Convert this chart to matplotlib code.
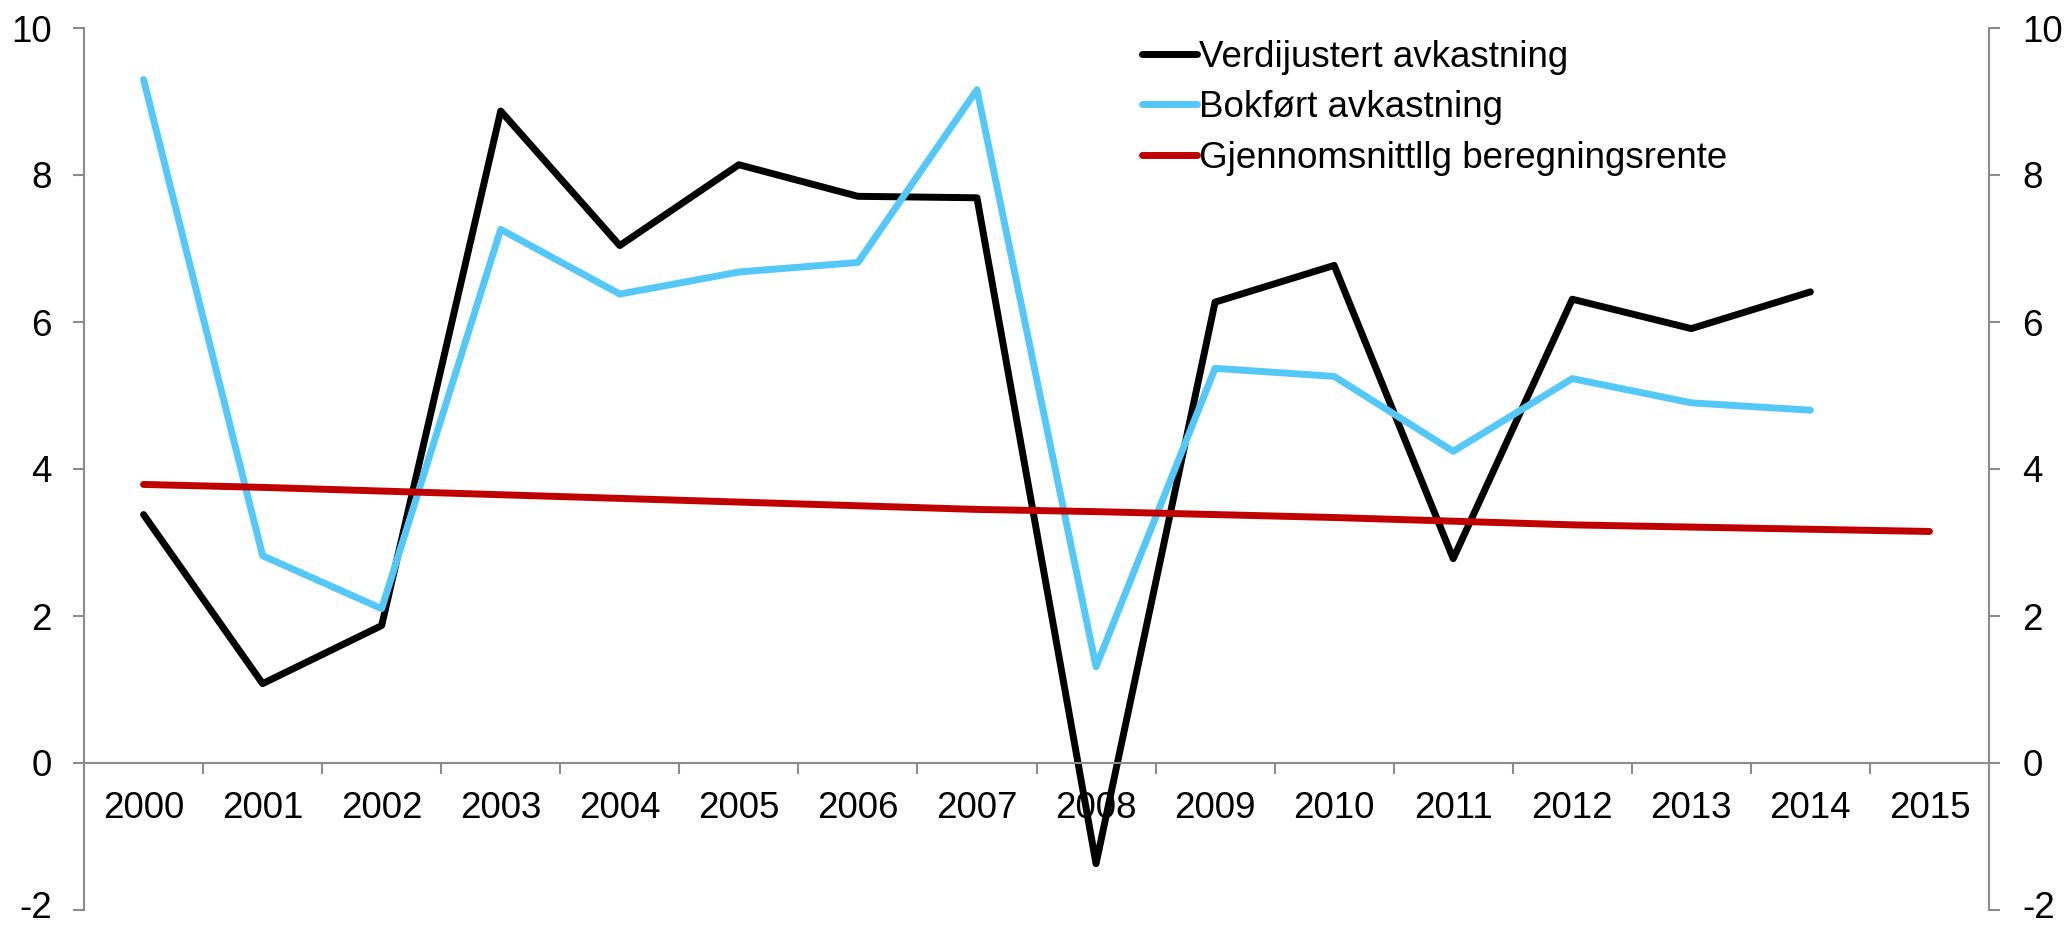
import numpy as np
import matplotlib.pyplot as plt
from matplotlib.transforms import ScaledTranslation

plt.rcParams['font.family'] = ['Liberation Sans', 'DejaVu Sans']
plt.rcParams['axes.unicode_minus'] = False

years = ['2000', '2001', '2002', '2003', '2004', '2005', '2006', '2007',
         '2008', '2009', '2010', '2011', '2012', '2013', '2014', '2015']

# Verdijustert avkastning (to 2014)
verdijustert = [3.38, 1.08, 1.87, 8.87, 7.04, 8.14, 7.71, 7.69,
                -1.37, 6.27, 6.77, 2.78, 6.31, 5.91, 6.41]
# Bokført avkastning (to 2014)
bokfort = [9.30, 2.82, 2.10, 7.26, 6.38, 6.68, 6.81, 9.16,
           1.31, 5.37, 5.26, 4.24, 5.23, 4.90, 4.80]
# Gjennomsnittlig beregningsrente
rente = [3.79, 3.75, 3.70, 3.65, 3.60, 3.55, 3.50, 3.45,
         3.42, 3.38, 3.34, 3.29, 3.24, 3.21, 3.18, 3.15]

labels = ['Verdijustert avkastning', 'Bokført avkastning',
          'Gjennomsnittllg beregningsrente']
colors = ['#000000', '#55C8FA', '#C00000']

fig = plt.figure(figsize=(20.66, 9.26), dpi=100)
ax = fig.add_axes([84/2066, 1 - 910/926, (1989 - 84)/2066, (910 - 28)/926])

fs = 26.5
grey = '#8c8c8c'

for vals, lab, col in zip([verdijustert, bokfort, rente], labels, colors):
    ax.plot(np.arange(len(vals)), vals, color=col, lw=5, label=lab,
            solid_capstyle='round', solid_joinstyle='round')

ax.set_xlim(-0.5, len(years) - 0.5)
ax.set_ylim(-2, 10)
ax.set_yticks(range(-2, 11, 2))

ax.spines['top'].set_visible(False)
ax.spines['right'].set_visible(False)
ax.spines['left'].set_color(grey)
ax.spines['bottom'].set_color(grey)
ax.spines['left'].set_linewidth(1.5)
ax.spines['bottom'].set_linewidth(1.5)
ax.spines['bottom'].set_position(('data', 0))

# category boundaries as ticks, year labels centred in each category
ax.set_xticks(np.arange(0.5, len(years) - 1, 1))
ax.set_xticklabels([])
ax.set_xticks(np.arange(len(years)), minor=True)
ax.set_xticklabels(years, minor=True)
ax.tick_params(axis='x', which='major', direction='out', length=8,
               width=1.5, color=grey)
ax.tick_params(axis='x', which='minor', length=0, pad=20, labelsize=fs)
ax.tick_params(axis='y', direction='out', length=8, width=1.5, color=grey,
               pad=15, labelsize=fs)

ax2 = ax.twinx()
ax2.set_ylim(-2, 10)
ax2.set_yticks(range(-2, 11, 2))
for s in ['top', 'left', 'bottom']:
    ax2.spines[s].set_visible(False)
ax2.spines['right'].set_color(grey)
ax2.spines['right'].set_linewidth(1.5)
ax2.tick_params(axis='y', direction='out', length=8, width=1.5, color=grey,
                pad=16, labelsize=fs)

# nudge the bottom "-2" labels up a little so they stay inside the image
up = ScaledTranslation(0, 5/100, fig.dpi_scale_trans)
ax.get_yticklabels()[0].set_transform(ax.get_yticklabels()[0].get_transform() + up)
ax2.get_yticklabels()[0].set_transform(ax2.get_yticklabels()[0].get_transform() + up)

ax.legend(loc='upper left', bbox_to_anchor=(1142/2066, 0.957),
          bbox_transform=fig.transFigure, frameon=False, fontsize=fs,
          handlelength=1.5, handletextpad=0.05, borderpad=0,
          borderaxespad=0, labelspacing=0.42)

fig.savefig('out.png', dpi=100)
